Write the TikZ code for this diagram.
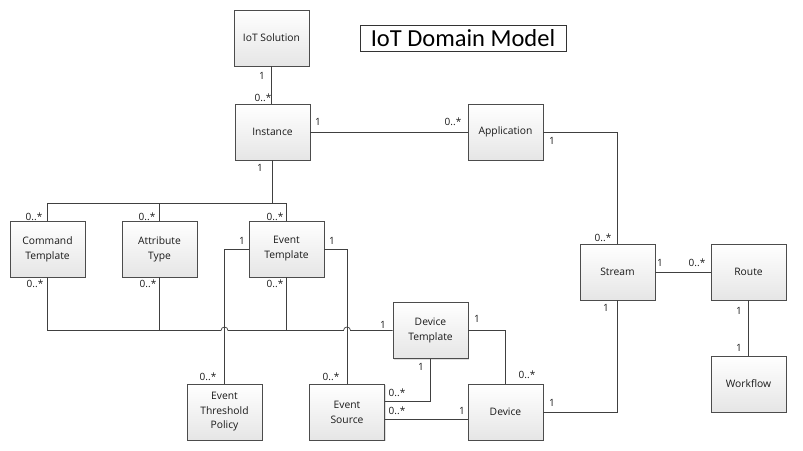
\documentclass[tikz,border=0pt]{standalone}
\usepackage{fontspec}
\usetikzlibrary{shadows}
\setmainfont{Open Sans}
\newfontfamily\titlefont{Carlito}
\begin{document}
\begin{tikzpicture}[x=1pt,y=1pt,
  cls/.style={draw=black!70, line width=0.6pt, top color=white, bottom color=black!10,
    drop shadow={shadow xshift=1pt, shadow yshift=-1pt, fill=black!25, opacity=0.5},
    minimum width=75pt, minimum height=56pt, inner sep=1pt, align=center,
    font=\fontsize{10.3}{15}\selectfont, text=black!90},
  conn/.style={draw=black!75, line width=0.7pt},
  lbl/.style={font=\fontsize{10}{10}\selectfont, text=black!90, inner sep=0pt}]
\useasboundingbox (0,0) rectangle (803,450);
\fill[white] (0,0) rectangle (803,450);
% title
\node[draw=black!80, line width=0.6pt, minimum width=206pt, minimum height=26pt, inner sep=0pt,
  font=\titlefont\fontsize{24.5}{26}\selectfont] (title) at (463,412) {IoT Domain Model};
% classes
\node[cls] (sol) at (271.5,412) {IoT Solution};
\node[cls] (inst) at (272.5,318) {Instance};
\node[cls] (app) at (505.5,318) {Application};
\node[cls] (cmd) at (47.5,201) {Command\\Template};
\node[cls] (attr) at (159.5,201) {Attribute\\Type};
\node[cls] (evt) at (286.5,201) {Event\\Template};
\node[cls] (dtpl) at (430.5,119.5) {Device\\Template};
\node[cls] (stream) at (617.5,178) {Stream};
\node[cls] (route) at (748.5,178) {Route};
\node[cls] (wf) at (748.5,66) {Workflow};
\node[cls] (dev) at (505.5,38) {Device};
\node[cls, font=\fontsize{10.3}{14.5}\selectfont] (etp) at (224.5,38) {Event\\Threshold\\Policy};
\node[cls] (esrc) at (347,38) {Event\\Source};
% helper coordinates
\coordinate (bus) at (0,247);
% connectors
\draw[conn] (sol.south) -- (sol.south |- inst.north);
\draw[conn] (inst.east) -- (app.west);
\draw[conn] (inst.south) -- (inst.south |- bus);
\draw[conn] (cmd.north) -- (cmd.north |- bus) -- (evt.north |- bus) -- (evt.north);
\draw[conn] (attr.north) -- (attr.north |- bus);
\draw[conn] (app.east) -| (stream.north);
\draw[conn] (stream.east) -- (route.west);
\draw[conn] (route.south) -- (wf.north);
\draw[conn] (stream.south) |- (dev.east);
% lower bus with jumps
\coordinate (jumpA) at ([xshift=-3.5pt]etp.north |- dtpl.west);
\coordinate (jumpB) at ([xshift=-3.5pt]esrc.north |- dtpl.west);
\draw[conn] (cmd.south) -- (cmd.south |- dtpl.west) -- (jumpA)
  arc[start angle=180, end angle=0, radius=3.5pt] -- (jumpB)
  arc[start angle=180, end angle=0, radius=3.5pt] -- (dtpl.west);
\draw[conn] (attr.south) -- (attr.south |- dtpl.west);
\draw[conn] (evt.south) -- (evt.south |- dtpl.west);
\draw[conn] (evt.west) -| (etp.north);
\draw[conn] (evt.east) -| (esrc.north);
\draw[conn] (dtpl.east) -| (dev.north);
\coordinate (esA) at ([yshift=11pt]esrc.east);
\coordinate (esB) at ([yshift=-7pt]esrc.east);
\draw[conn] (dtpl.south) |- (esA);
\draw[conn] (esB) -- (dev.west |- esB);
% multiplicity labels
\node[lbl] (l1) at (262,374) {1};
\node[lbl] (l2) at (263,352) {0..*};
\node[lbl] (l3) at (318,328) {1};
\node[lbl] (l4) at (453,328) {0..*};
\node[lbl] (l5) at (552,309) {1};
\node[lbl] (l6) at (603,212) {0..*};
\node[lbl] (l7) at (660,187) {1};
\node[lbl] (l8) at (697,187) {0..*};
\node[lbl] (l9) at (606,142) {1};
\node[lbl] (l10) at (739,139) {1};
\node[lbl] (l11) at (739,102) {1};
\node[lbl] (l12) at (552,47) {1};
\node[lbl] (l13) at (260,282) {1};
\node[lbl] (l14) at (34,233) {0..*};
\node[lbl] (l15) at (147,233) {0..*};
\node[lbl] (l16) at (275,233) {0..*};
\node[lbl] (l17) at (35,166) {0..*};
\node[lbl] (l18) at (148,166) {0..*};
\node[lbl] (l19) at (275,166) {0..*};
\node[lbl] (l20) at (242,209) {1};
\node[lbl] (l21) at (208,73) {0..*};
\node[lbl] (l22) at (332,209) {1};
\node[lbl] (l23) at (331,73) {0..*};
\node[lbl] (l24) at (383,125) {1};
\node[lbl] (l25) at (477,131) {1};
\node[lbl] (l26) at (527,75) {0..*};
\node[lbl] (l27) at (421,83) {1};
\node[lbl] (l28) at (397,57) {0..*};
\node[lbl] (l29) at (397,39) {0..*};
\node[lbl] (l30) at (462,39) {1};
\end{tikzpicture}
\end{document}
